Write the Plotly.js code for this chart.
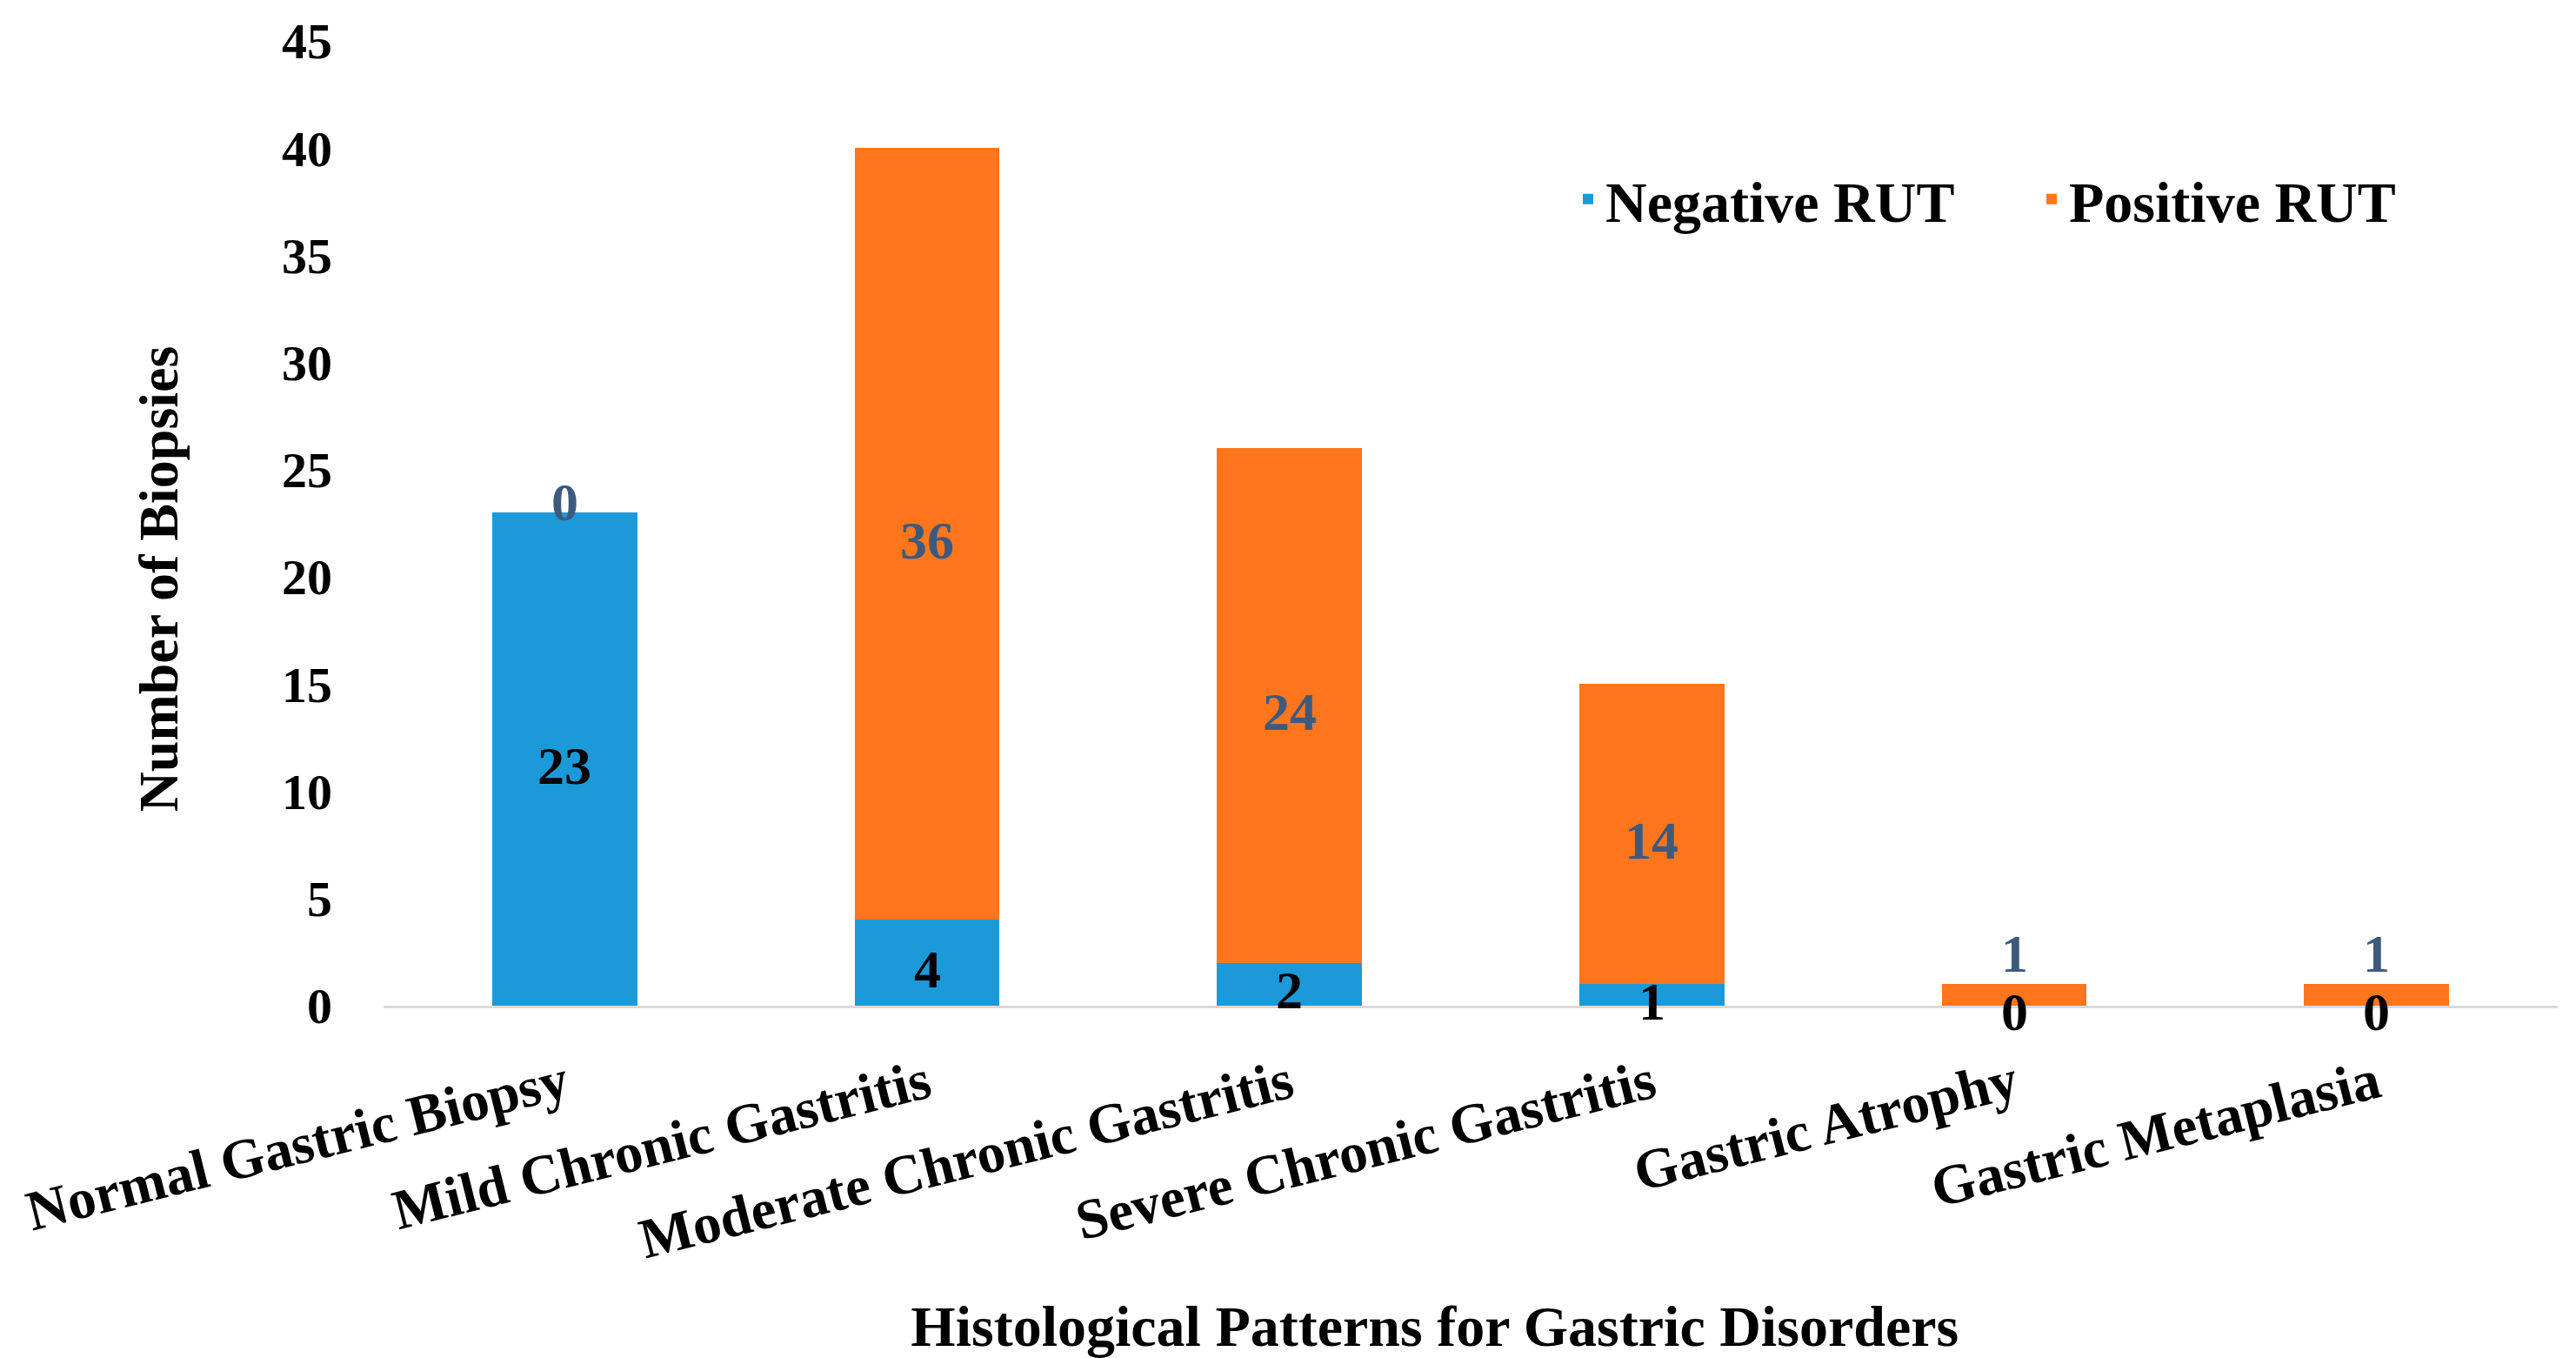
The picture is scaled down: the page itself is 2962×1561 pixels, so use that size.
<!DOCTYPE html>
<html>
<head>
<meta charset="utf-8">
<script src="https://cdn.plot.ly/plotly-3.0.1.min.js"></script>
<style>html,body{margin:0;padding:0;background:#fff;}#chart{width:2962px;height:1561px;}</style>
</head>
<body>
<div id="chart"></div>
<script>
const categories = ["Normal Gastric Biopsy", "Mild Chronic Gastritis", "Moderate Chronic Gastritis", "Severe Chronic Gastritis", "Gastric Atrophy", "Gastric Metaplasia"];
const negativeRUT = [23, 4, 2, 1, 0, 0];
const positiveRUT = [0, 36, 24, 14, 1, 1];
const seriesNames = ["Negative RUT", "Positive RUT"];
const yTickValues = [0, 5, 10, 15, 20, 25, 30, 35, 40, 45];
const xTitle = "Histological Patterns for Gastric Disorders";
const yTitle = "Number of Biopsies";

const FONT = "Liberation Serif, Times New Roman, serif";
const BLUE = "#1C9AD8";
const ORANGE = "#FF761C";
const NB = "\u00A0";

const traces = [
  {
    type: "bar", name: seriesNames[0], x: categories, y: negativeRUT,
    marker: {color: BLUE, line: {width: 0}}, hoverinfo: "x+y+name"
  },
  {
    type: "bar", name: seriesNames[1], x: categories, y: positiveRUT,
    marker: {color: ORANGE, line: {width: 0}}, hoverinfo: "x+y+name"
  }
];

const annotations = [];
categories.forEach((c, i) => {
  annotations.push({
    x: c, y: negativeRUT[i] / 2, xref: "x", yref: "y",
    text: "<b>" + negativeRUT[i] + "</b>", showarrow: false, yshift: -7,
    font: {family: FONT, size: 62, color: "#000000"}
  });
  let shift = -7;
  if (positiveRUT[i] === 0) shift = 12;
  else if (positiveRUT[i] <= 1) shift = 48;
  annotations.push({
    x: c, y: negativeRUT[i] + positiveRUT[i] / 2, xref: "x", yref: "y",
    text: "<b>" + positiveRUT[i] + "</b>", showarrow: false, yshift: shift,
    font: {family: FONT, size: 62, color: "#3D5A7E"}
  });
});

const layout = {
  width: 2962, height: 1561,
  margin: {l: 441, r: 21, t: 47, b: 405, pad: 0},
  paper_bgcolor: "#ffffff", plot_bgcolor: "#ffffff",
  barmode: "stack", bargap: 0.6,
  font: {family: FONT, color: "#000000"},
  showlegend: true,
  legend: {
    orientation: "h", x: 0.546, xanchor: "left", y: 0.836, yanchor: "middle",
    font: {family: FONT, size: 66, color: "#000000", weight: "bold"},
    bgcolor: "rgba(0,0,0,0)", entrywidth: 488, entrywidthmode: "pixels",
    traceorder: "normal"
  },
  xaxis: {
    type: "category", tickangle: -14, showgrid: false, zeroline: false,
    showline: true, linecolor: "#D9D9D9", linewidth: 3, ticks: "",
    tickfont: {family: FONT, size: 65, color: "#000000", weight: "bold"},
    ticklabelstandoff: 24,
    title: {text: "<b>" + xTitle + NB.repeat(5) + "</b>", standoff: 56,
            font: {family: FONT, size: 66, color: "#000000"}},
    automargin: false, fixedrange: true
  },
  yaxis: {
    range: [0, 45], tickvals: yTickValues, showgrid: false, zeroline: false,
    showline: false, ticks: "",
    tickfont: {family: FONT, size: 58, color: "#000000", weight: "bold"},
    ticklabelstandoff: 58,
    title: {text: "<b>" + yTitle + NB.repeat(8) + "</b>", standoff: 98,
            font: {family: FONT, size: 64, color: "#000000"}},
    automargin: false, fixedrange: true
  },
  annotations: annotations
};

Plotly.newPlot("chart", traces, layout, {displayModeBar: false, staticPlot: true});
</script>
</body>
</html>
